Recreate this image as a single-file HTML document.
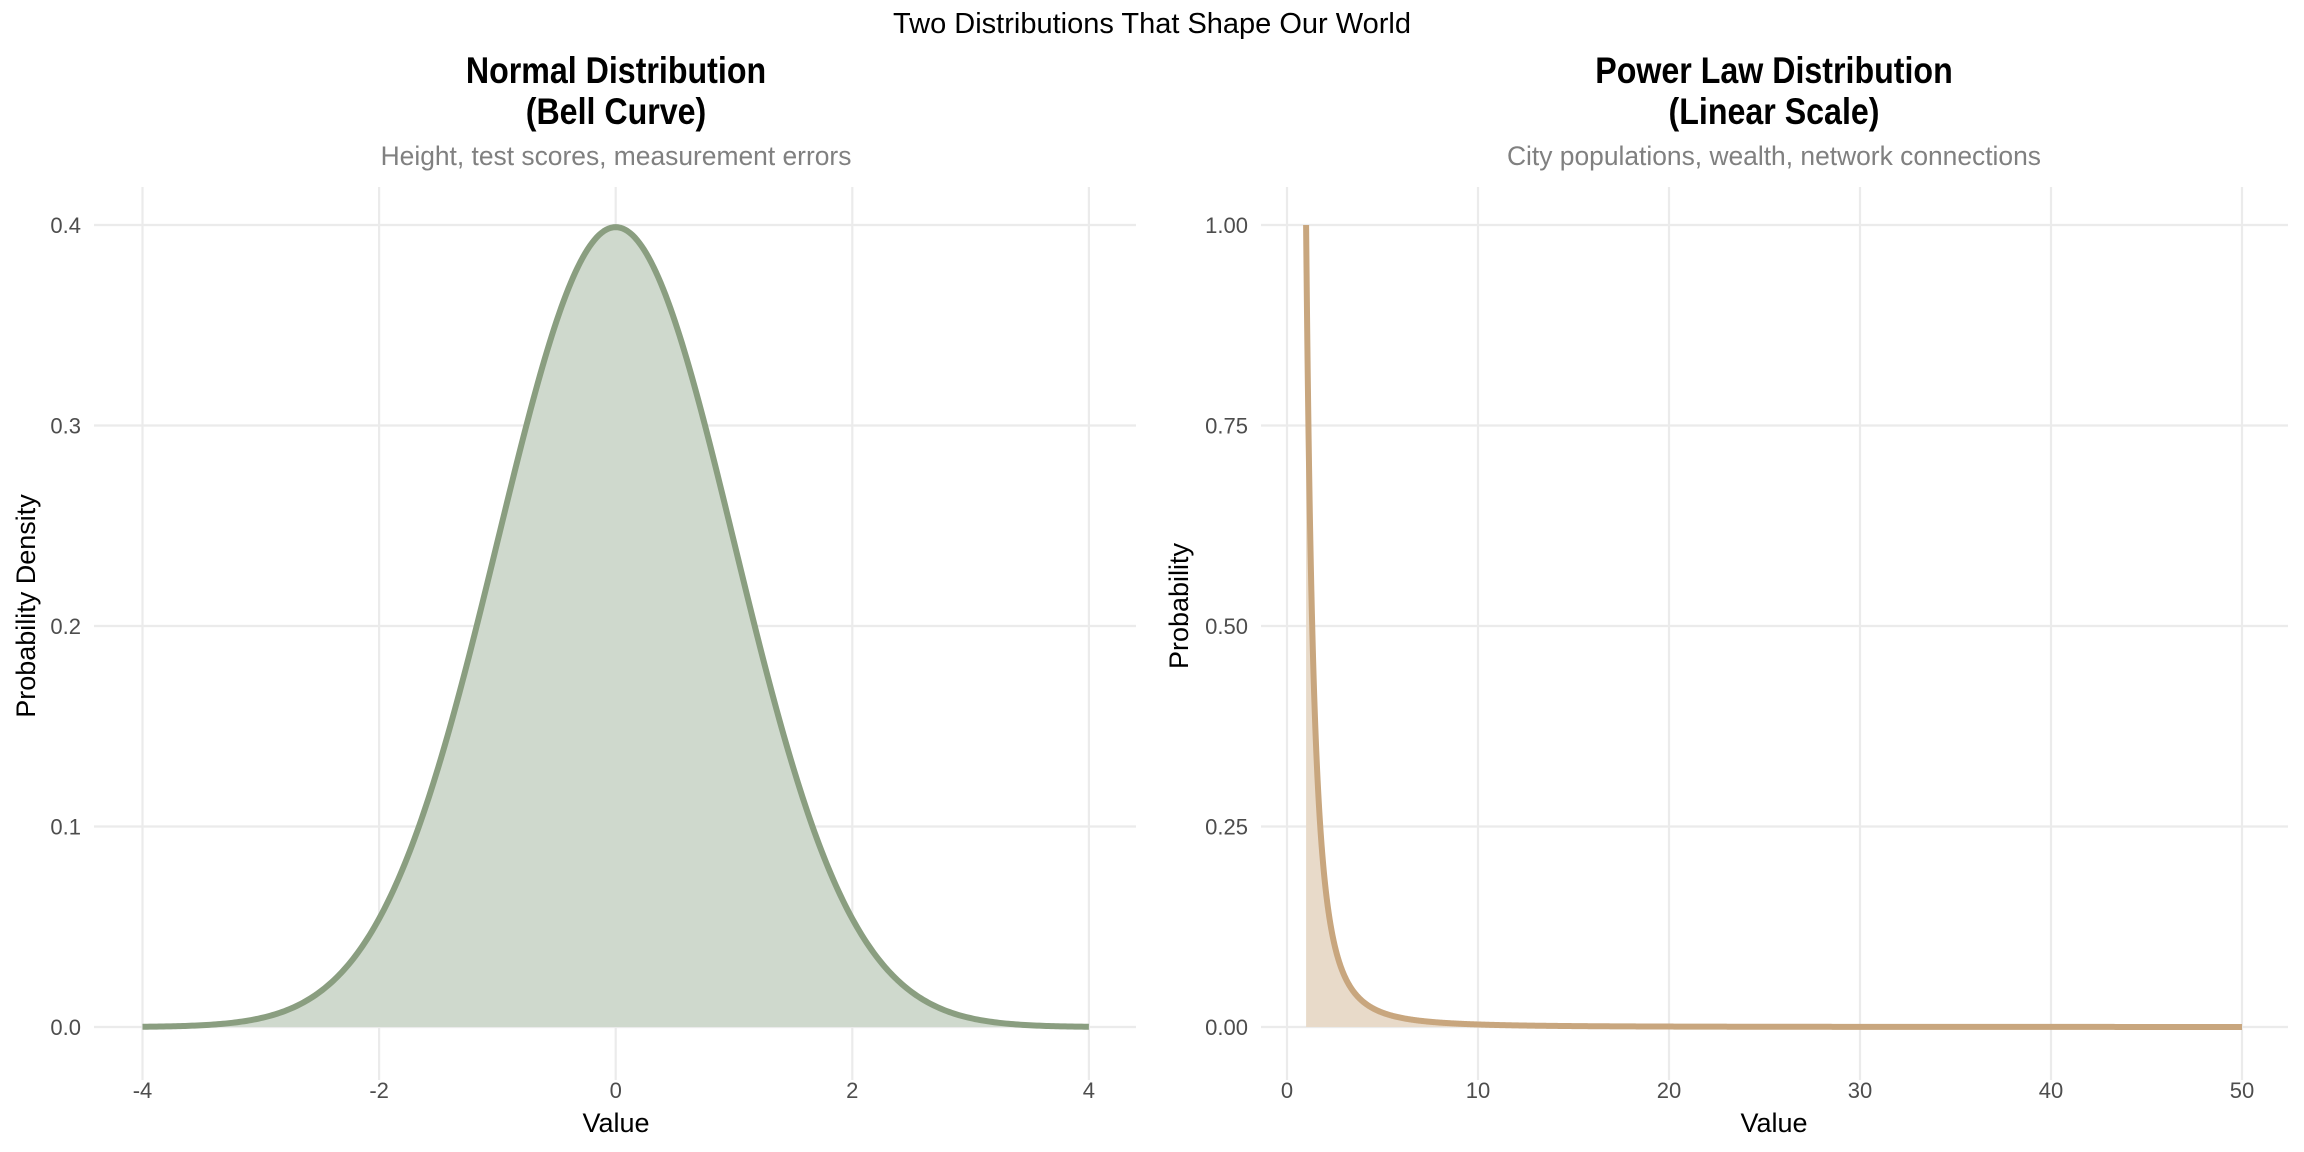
<!DOCTYPE html>
<html><head><meta charset="utf-8"><style>
html,body{margin:0;padding:0;background:#fff;}
svg{display:block;}
text{font-family:"Liberation Sans",sans-serif;}
.tk{font-size:22px;fill:#4d4d4d;}
.ax{font-size:27px;fill:#000;}
.pt{font-family:"Liberation Sans Narrow","Liberation Sans",sans-serif;font-weight:bold;font-size:37px;fill:#000;}
.st{font-size:26.4px;fill:#808080;}
.g{stroke:#ebebeb;stroke-width:2.2;}
</style></head><body>
<svg id="s" width="2304" height="1152" viewBox="0 0 2304 1152" xmlns="http://www.w3.org/2000/svg">
<text x="1152" y="33" text-anchor="middle" style="font-size:29px">Two Distributions That Shape Our World</text>
<g transform="translate(616,0) scale(0.87,1)">
<text class="pt" x="0" y="83" text-anchor="middle">Normal Distribution</text>
<text class="pt" x="0" y="124" text-anchor="middle">(Bell Curve)</text>
</g>
<text class="st" x="616" y="165" text-anchor="middle">Height, test scores, measurement errors</text>
<g transform="translate(1774,0) scale(0.87,1)">
<text class="pt" x="0" y="83" text-anchor="middle">Power Law Distribution</text>
<text class="pt" x="0" y="124" text-anchor="middle">(Linear Scale)</text>
</g>
<text class="st" x="1774" y="165" text-anchor="middle">City populations, wealth, network connections</text>
<g id="grid"></g>
<path id="nf" fill="#cfd9cd" stroke="none"/>
<path id="nl" fill="none" stroke="#8a9e80" stroke-width="6" stroke-linejoin="round"/>
<path id="pf" fill="#e8dac9" stroke="none"/>
<path id="pl" fill="none" stroke="#c8a67e" stroke-width="6" stroke-linejoin="round"/>
<g id="lab"></g>
<text class="ax" x="616" y="1132" text-anchor="middle">Value</text>
<text class="ax" x="1774" y="1132" text-anchor="middle">Value</text>
<text class="ax" transform="translate(35,606) rotate(-90)" text-anchor="middle">Probability Density</text>
<text class="ax" transform="translate(1188,606) rotate(-90)" text-anchor="middle">Probability</text>
</svg>
<script>
(function(){
var NS="http://www.w3.org/2000/svg";
function el(p,t,a,txt){var e=document.createElementNS(NS,t);for(var k in a)e.setAttribute(k,a[k]);if(txt!==undefined)e.textContent=txt;document.getElementById(p).appendChild(e);}
var gt=187,gb=1080;
var lx=function(v){return 142.5+(v+4)*118.3;}, ly=function(v){return 1027-v*2005;};
for(var v=-4;v<=4;v+=2){el("grid","line",{x1:lx(v),x2:lx(v),y1:gt,y2:gb,"class":"g"});el("lab","text",{x:lx(v),y:1098,"class":"tk","text-anchor":"middle"},String(v));}
[0,0.1,0.2,0.3,0.4].forEach(function(v){el("grid","line",{x1:94,x2:1136,y1:ly(v),y2:ly(v),"class":"g"});el("lab","text",{x:81,y:ly(v)+8,"class":"tk","text-anchor":"end"},v.toFixed(1));});
var d="";for(var i=0;i<=400;i++){var x=-4+i*0.02,y=Math.exp(-x*x/2)/Math.sqrt(2*Math.PI);d+=(i?"L":"M")+lx(x).toFixed(2)+","+ly(y).toFixed(2);}
document.getElementById("nl").setAttribute("d",d);
document.getElementById("nf").setAttribute("d",d+"L"+lx(4)+","+ly(0)+"L"+lx(-4)+","+ly(0)+"Z");
var rx=function(v){return 1287+v*19.1;}, ry=function(v){return 1027-v*802;};
for(var v=0;v<=50;v+=10){el("grid","line",{x1:rx(v),x2:rx(v),y1:gt,y2:gb,"class":"g"});el("lab","text",{x:rx(v),y:1098,"class":"tk","text-anchor":"middle"},String(v));}
[0,0.25,0.5,0.75,1].forEach(function(v){el("grid","line",{x1:1261,x2:2288,y1:ry(v),y2:ry(v),"class":"g"});el("lab","text",{x:1248,y:ry(v)+8,"class":"tk","text-anchor":"end"},v.toFixed(2));});
d="";for(var i=0;i<=1000;i++){var x=1+Math.pow(i/1000,2)*49,y=Math.pow(x,-2.5);d+=(i?"L":"M")+rx(x).toFixed(2)+","+ry(y).toFixed(2);}
document.getElementById("pl").setAttribute("d",d);
document.getElementById("pf").setAttribute("d",d+"L"+rx(50)+","+ry(0)+"L"+rx(1)+","+ry(0)+"Z");
})();
</script>
</body></html>
